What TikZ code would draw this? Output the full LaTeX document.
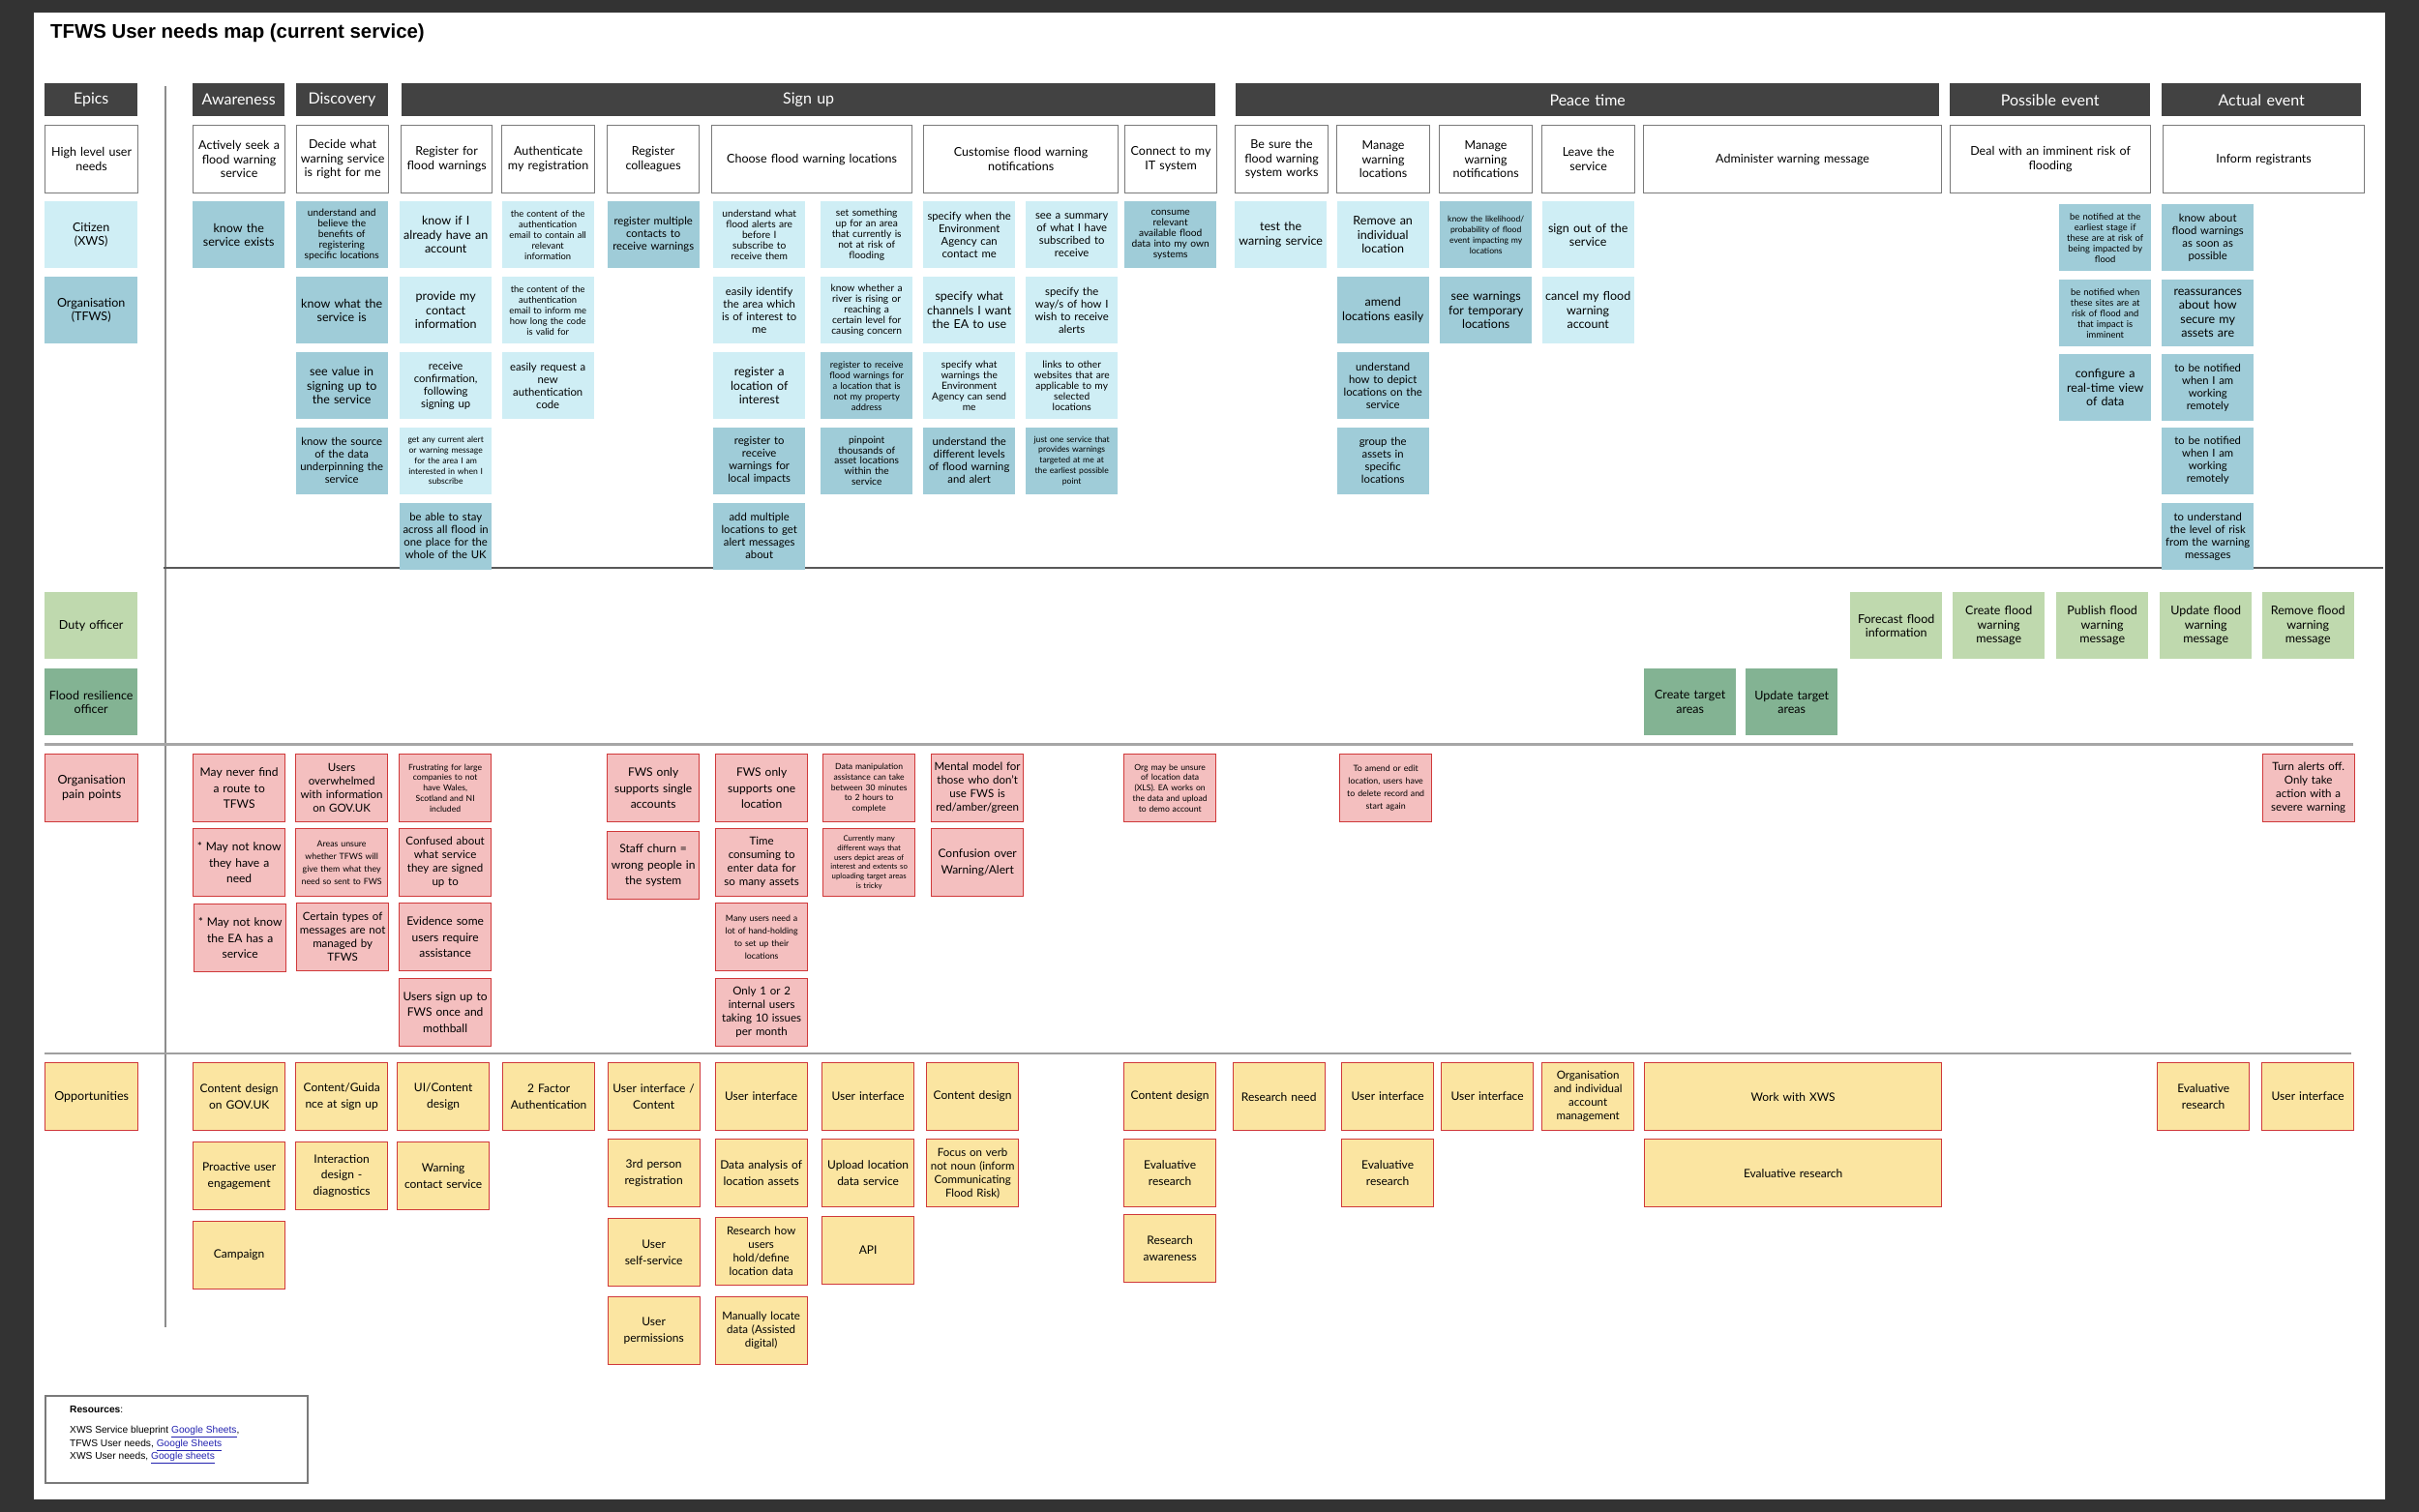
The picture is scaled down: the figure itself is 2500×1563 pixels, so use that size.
\documentclass[tikz,border=0pt]{standalone}
\usepackage{fontspec}
\setmainfont{Lato}
\newfontfamily\arialf{Liberation Sans}
\definecolor{bgdark}{HTML}{333333}
\definecolor{hdark}{HTML}{424242}
\definecolor{lblue}{HTML}{CFEEF5}
\definecolor{dblue}{HTML}{9FCCD8}
\definecolor{lgreen}{HTML}{BFD9AE}
\definecolor{dgreen}{HTML}{83B393}
\definecolor{pinkf}{HTML}{F4BFBF}
\definecolor{yellf}{HTML}{FBE5A1}
\definecolor{redb}{HTML}{D0393A}
\definecolor{wgray}{HTML}{7A7A7A}
\definecolor{linkc}{HTML}{2323B0}
\newcommand{\szA}{\fontsize{12.5}{14.5}\selectfont}
\newcommand{\szB}{\fontsize{11.3}{13}\selectfont}
\newcommand{\szC}{\fontsize{10.2}{10.8}\selectfont}
\newcommand{\szD}{\fontsize{9.4}{11}\selectfont}
\newcommand{\szE}{\fontsize{8.6}{10.8}\selectfont}
\newcommand{\szF}{\fontsize{8.8}{13}\selectfont}
\newcommand{\szG}{\fontsize{7.8}{9.7}\selectfont}
\newcommand{\szH}{\fontsize{16}{18}\selectfont}
\newcommand{\szP}{\fontsize{12}{16.5}\selectfont}
\newcommand{\szQ}{\fontsize{11.5}{14}\selectfont}
\tikzset{
  box/.style={anchor=north west, inner xsep=3pt, inner ysep=1pt, align=center,
    text width=89pt, minimum height=69pt, font=\szA},
  lb/.style={box, fill=lblue},
  db/.style={box, fill=dblue},
  lg/.style={box, fill=lgreen},
  dg/.style={box, fill=dgreen},
  wb/.style={box, draw=wgray, line width=1.2pt, minimum height=70pt, fill=white},
  hd/.style={box, fill=hdark, text=white, minimum height=34pt, font=\szH},
  pp/.style={box, fill=pinkf, draw=redb, line width=1.3pt, minimum height=70pt, font=\szP},
  op/.style={box, fill=yellf, draw=redb, line width=1.3pt, minimum height=70pt, font=\szP},
  fA/.style={font=\szA}, fB/.style={font=\szB}, fC/.style={font=\szC},
  fD/.style={font=\szD}, fE/.style={font=\szE}, fF/.style={font=\szF},
  fG/.style={font=\szG}, fP/.style={font=\szP}, fQ/.style={font=\szQ},
  tw/.style={text width=#1pt},
  divider/.style={line width=#1pt, color=gray!80!black},
}
\begin{document}
\begin{tikzpicture}[x=1pt,y=-1pt]
\fill[bgdark] (0,0) rectangle (2500,1563);
\fill[white] (35,13) rectangle (2465,1550);
\useasboundingbox (0,0) rectangle (2500,1563);

\node[anchor=base west, inner sep=0, font=\arialf\bfseries\fontsize{20.4}{24}\selectfont] (title) at (52,39.5) {TFWS User needs map (current service)};

% dividers
\draw[line width=1.5pt, color=gray!90] (171,89) -- (171,1372);
\draw[line width=2pt, color=gray!70!black] (169,587) -- (2463,587);
\draw[line width=3pt, color=gray!70] (46,769) -- (2432,769);
\draw[line width=2.5pt, color=gray!75] (46,1089) -- (2430,1089);

% epic headers
\node[hd, tw=90] (hEpics) at (46,86) {Epics};
\node[hd, tw=89] (hAware) at (199,86) {Awareness};
\node[hd, tw=89.5] (hDisc) at (305.5,86) {Discovery};
\node[hd, tw=835] (hSign) at (415,86) {Sign up};
\node[hd, tw=721] (hPeace) at (1277,86) {Peace time};
\node[hd, tw=201] (hPoss) at (2015,86) {Possible event};
\node[hd, tw=200] (hAct) at (2234,86) {Actual event};

% high level needs
\node[wb, tw=90] (w0) at (46,129) {High level user\\needs};
\node[wb, tw=89] (w1) at (199,129) {Actively seek a\\flood warning\\service};
\node[wb, tw=89] (w2) at (306,129) {Decide what\\warning service\\is right for me};
\node[wb, tw=88] (w3) at (414,129) {Register for\\flood warnings};
\node[wb, tw=90] (w4) at (518,129) {Authenticate\\my registration};
\node[wb, tw=89] (w5) at (627,129) {Register\\colleagues};
\node[wb, tw=201] (w6) at (735,129) {Choose flood warning locations};
\node[wb, tw=195] (w7) at (954,129) {Customise flood warning\\notifications};
\node[wb, tw=89] (w8) at (1162,129) {Connect to my\\IT system};
\node[wb, tw=90] (w9) at (1276,129) {Be sure the\\flood warning\\system works};
\node[wb, tw=90] (w10) at (1381,129) {Manage\\warning\\locations};
\node[wb, tw=90] (w11) at (1487,129) {Manage\\warning\\notifications};
\node[wb, tw=90] (w12) at (1593,129) {Leave the\\service};
\node[wb, tw=302] (w13) at (1698,129) {Administer warning message};
\node[wb, tw=201] (w14) at (2015,129) {Deal with an imminent risk of\\flooding};
\node[wb, tw=202] (w15) at (2235,129) {Inform registrants};

% left labels
\node[lb, tw=90] (lCit) at (46,208) {Citizen\\(XWS)};
\node[db, tw=90] (lOrg) at (46,286) {Organisation\\(TFWS)};
\node[lg, tw=90] (lDuty) at (46,612) {Duty officer};
\node[dg, tw=90] (lFro) at (46,691) {Flood resilience\\officer};
\node[pp, tw=90, fA] (lPain) at (46,779) {Organisation\\pain points};
\node[op, tw=90, fA] (lOpp) at (46,1098) {Opportunities};

% needs cards
\node[db] (aw1) at (199,208) {know the\\service exists};
\node[db, fC] (di1) at (305.5,208) {understand and\\believe the\\benefits of\\registering\\specific locations};
\node[db] (di2) at (305.5,286) {know what the\\service is};
\node[db] (di3) at (305.5,364) {see value in\\signing up to\\the service};
\node[db, fB] (di4) at (305.5,441.5) {know the source\\of the data\\underpinning the\\service};
\node[lb] (re1) at (413,208) {know if I\\already have an\\account};
\node[lb] (re2) at (413,286) {provide my\\contact\\information};
\node[lb, fB] (re3) at (413,364) {receive\\confirmation,\\following\\signing up};
\node[lb, fE] (re4) at (413,441.5) {get any current alert\\or warning message\\for the area I am\\interested in when I\\subscribe};
\node[db, fB] (re5) at (413,519.5) {be able to stay\\across all flood in\\one place for the\\whole of the UK};
\node[lb, fD] (au1) at (518.5,208) {the content of the\\authentication\\email to contain all\\relevant\\information};
\node[lb, fD] (au2) at (518.5,286) {the content of the\\authentication\\email to inform me\\how long the code\\is valid for};
\node[lb, fB] (au3) at (518.5,364) {easily request a\\new\\authentication\\code};
\node[db, fB] (rc1) at (627.5,208) {register multiple\\contacts to\\receive warnings};
\node[lb, fC] (ca1) at (737,208) {understand what\\flood alerts are\\before I\\subscribe to\\receive them};
\node[lb, fB] (ca2) at (737,286) {easily identify\\the area which\\is of interest to\\me};
\node[lb] (ca3) at (737,364) {register a\\location of\\interest};
\node[db, fB] (ca4) at (737,441.5) {register to\\receive\\warnings for\\local impacts};
\node[db, fB] (ca5) at (737,519.5) {add multiple\\locations to get\\alert messages\\about};
\node[lb, fC] (cb1) at (848,208) {set something\\up for an area\\that currently is\\not at risk of\\flooding};
\node[lb, fC] (cb2) at (848,286) {know whether a\\river is rising or\\reaching a\\certain level for\\causing concern};
\node[db, fD] (cb3) at (848,364) {register to receive\\flood warnings for\\a location that is\\not my property\\address};
\node[db, fC] (cb4) at (848,441.5) {pinpoint\\thousands of\\asset locations\\within the\\service};
\node[lb, fB] (cu1) at (954,208) {specify when the\\Environment\\Agency can\\contact me};
\node[lb] (cu2) at (954,286) {specify what\\channels I want\\the EA to use};
\node[lb, fC] (cu3) at (954,364) {specify what\\warnings the\\Environment\\Agency can send\\me};
\node[db, fB] (cu4) at (954,441.5) {understand the\\different levels\\of flood warning\\and alert};
\node[lb, fB] (cv1) at (1060,208) {see a summary\\of what I have\\subscribed to\\receive};
\node[lb, fB] (cv2) at (1060,286) {specify the\\way/s of how I\\wish to receive\\alerts};
\node[lb, fC] (cv3) at (1060,364) {links to other\\websites that are\\applicable to my\\selected\\locations};
\node[db, fE] (cv4) at (1060,441.5) {just one service that\\provides warnings\\targeted at me at\\the earliest possible\\point};
\node[db, fC] (co1) at (1162,208) {consume\\relevant\\available flood\\data into my own\\systems};
\node[lb] (be1) at (1276,208) {test the\\warning service};
\node[lb] (ml1) at (1381.5,208) {Remove an\\individual\\location};
\node[db] (ml2) at (1381.5,286) {amend\\locations easily};
\node[db, fB] (ml3) at (1381.5,364) {understand\\how to depict\\locations on the\\service};
\node[db, fB] (ml4) at (1381.5,441.5) {group the\\assets in\\specific\\locations};
\node[db, fE] (mn1) at (1488,208) {know the likelihood/\\probability of flood\\event impacting my\\locations};
\node[db] (mn2) at (1488,286) {see warnings\\for temporary\\locations};
\node[lb] (le1) at (1593.5,208) {sign out of the\\service};
\node[lb] (le2) at (1593.5,286) {cancel my flood\\warning\\account};
\node[db, fD] (de1) at (2128,211) {be notified at the\\earliest stage if\\these are at risk of\\being impacted by\\flood};
\node[db, fD] (de2) at (2128,289) {be notified when\\these sites are at\\risk of flood and\\that impact is\\imminent};
\node[db] (de3) at (2128,366) {configure a\\real-time view\\of data};
\node[db, fB] (in1) at (2234,211) {know about\\flood warnings\\as soon as\\possible};
\node[db] (in2) at (2234,289) {reassurances\\about how\\secure my\\assets are};
\node[db, fB] (in3) at (2234,366) {to be notified\\when I am\\working\\remotely};
\node[db, fB] (in4) at (2234,441.5) {to be notified\\when I am\\working\\remotely};
\node[db, fB] (in5) at (2234,520) {to understand\\the level of risk\\from the warning\\messages};

% green cards
\node[lg] (g1) at (1912,612) {Forecast flood\\information};
\node[lg] (g2) at (2018,612) {Create flood\\warning\\message};
\node[lg] (g3) at (2125,612) {Publish flood\\warning\\message};
\node[lg] (g4) at (2232,612) {Update flood\\warning\\message};
\node[lg] (g5) at (2337.5,612) {Remove flood\\warning\\message};
\node[dg] (t1) at (1699,691) {Create target\\areas};
\node[dg] (t2) at (1804,691) {Update target\\areas};

% pain points
\node[pp] (pa1) at (199,779) {May never find\\a route to\\TFWS};
\node[pp] (pa2) at (199,856) {* May not know\\they have a\\need};
\node[pp] (pa3) at (200,934) {* May not know\\the EA has a\\service};
\node[pp, fQ] (pd1) at (305,779) {Users\\overwhelmed\\with information\\on GOV.UK};
\node[pp, fF] (pd2) at (305,856) {Areas unsure\\whether TFWS will\\give them what they\\need so sent to FWS};
\node[pp, fQ] (pd3) at (306,933) {Certain types of\\messages are not\\managed by\\TFWS};
\node[pp, fE] (pr1) at (412,779) {Frustrating for large\\companies to not\\have Wales,\\Scotland and NI\\included};
\node[pp, fQ] (pr2) at (412,856) {Confused about\\what service\\they are signed\\up to};
\node[pp] (pr3) at (412,933) {Evidence some\\users require\\assistance};
\node[pp] (pr4) at (412,1011) {Users sign up to\\FWS once and\\mothball};
\node[pp] (pc1) at (627,779) {FWS only\\supports single\\accounts};
\node[pp] (pc2) at (627,859) {Staff churn =\\wrong people in\\the system};
\node[pp] (px1) at (739,779) {FWS only\\supports one\\location};
\node[pp, fQ] (px2) at (739,856) {Time\\consuming to\\enter data for\\so many assets};
\node[pp, fF] (px3) at (739,933) {Many users need a\\lot of hand-holding\\to set up their\\locations};
\node[pp, fQ] (px4) at (739,1011) {Only 1 or 2\\internal users\\taking 10 issues\\per month};
\node[pp, fE] (py1) at (850,779) {Data manipulation\\assistance can take\\between 30 minutes\\to 2 hours to\\complete};
\node[pp, fG] (py2) at (850,856) {Currently many\\different ways that\\users depict areas of\\interest and extents so\\uploading target areas\\is tricky};
\node[pp, fQ] (pz1) at (962,779) {Mental model for\\those who don’t\\use FWS is\\red/amber/green};
\node[pp] (pz2) at (962,856) {Confusion over\\Warning/Alert};
\node[pp, fE] (po1) at (1161,779) {Org may be unsure\\of location data\\(XLS). EA works on\\the data and upload\\to demo account};
\node[pp, fF] (pm1) at (1384,779) {To amend or edit\\location, users have\\to delete record and\\start again};
\node[pp, fQ] (pt1) at (2337.5,779) {Turn alerts off.\\Only take\\action with a\\severe warning};

% opportunities
\node[op] (oa1) at (199,1098) {Content design\\on GOV.UK};
\node[op] (oa2) at (199,1180) {Proactive user\\engagement};
\node[op] (oa3) at (199,1262) {Campaign};
\node[op] (od1) at (305,1098) {Content/Guida\\nce at sign up};
\node[op] (od2) at (305,1180) {Interaction\\design -\\diagnostics};
\node[op] (or1) at (410,1098) {UI/Content\\design};
\node[op] (or2) at (410,1180) {Warning\\contact service};
\node[op] (ou1) at (519,1098) {2 Factor\\Authentication};
\node[op] (oc1) at (627.5,1098) {User interface /\\Content};
\node[op] (oc2) at (627.5,1177) {3rd person\\registration};
\node[op] (oc3) at (627.5,1259) {User\\self-service};
\node[op] (oc4) at (627.5,1340) {User\\permissions};
\node[op] (ox1) at (738.5,1098) {User interface};
\node[op] (ox2) at (738.5,1177) {Data analysis of\\location assets};
\node[op, fQ] (ox3) at (738.5,1258) {Research how\\users\\hold/define\\location data};
\node[op, fQ] (ox4) at (738.5,1340) {Manually locate\\data (Assisted\\digital)};
\node[op] (oy1) at (849,1098) {User interface};
\node[op] (oy2) at (849,1177) {Upload location\\data service};
\node[op] (oy3) at (849,1257) {API};
\node[op] (oz1) at (957,1098) {Content design};
\node[op, fQ] (oz2) at (957,1177) {Focus on verb\\not noun (inform\\Communicating\\Flood Risk)};
\node[op] (oo1) at (1161,1098) {Content design};
\node[op] (oo2) at (1161,1177) {Evaluative\\research};
\node[op] (oo3) at (1161,1255) {Research\\awareness};
\node[op] (ob1) at (1273.5,1098) {Research need};
\node[op] (om1) at (1386,1098) {User interface};
\node[op] (om2) at (1386,1177) {Evaluative\\research};
\node[op] (on1) at (1489,1098) {User interface};
\node[op, fQ] (ol1) at (1593,1098) {Organisation\\and individual\\account\\management};
\node[op, tw=301] (ow1) at (1699,1098) {Work with XWS};
\node[op, tw=301] (ow2) at (1699,1177) {Evaluative research};
\node[op] (oe1) at (2229,1098) {Evaluative\\research};
\node[op] (oi1) at (2337,1098) {User interface};

% resources
\node[anchor=north west, draw=wgray, line width=1.5pt, fill=white, minimum width=271pt, minimum height=90pt, inner sep=0] (resbox) at (46,1442) {};
\node[anchor=north west, inner sep=0, align=left, font=\arialf\fontsize{10.2}{13.5}\selectfont] (restext) at (72,1453)
 {\textbf{Resources}:\\[8pt]
  XWS Service blueprint \textcolor{linkc}{\underline{Google Sheets}},\\
  TFWS User needs, \textcolor{linkc}{\underline{Google Sheets}}\\
  XWS User needs, \textcolor{linkc}{\underline{Google sheets}}};
\end{tikzpicture}
\end{document}
